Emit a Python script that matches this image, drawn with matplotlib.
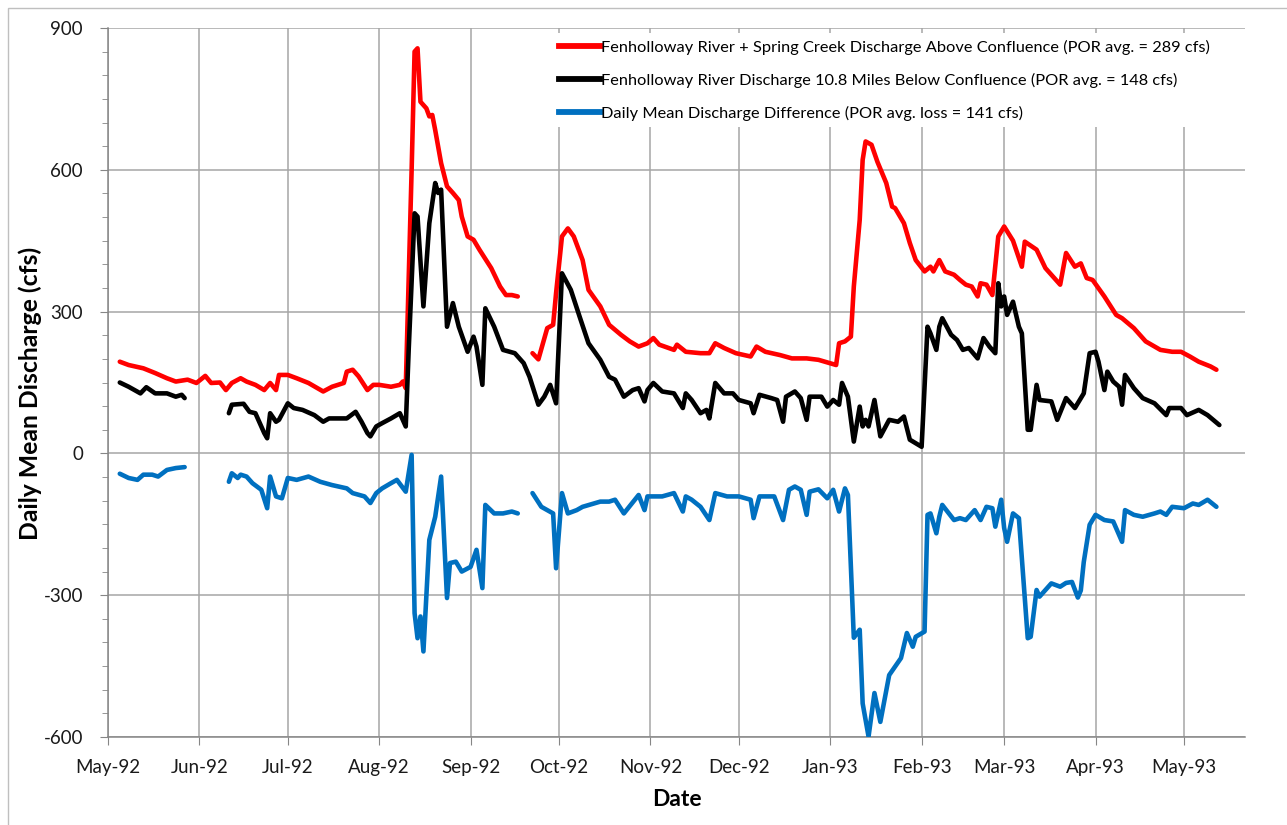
import numpy as np
import pandas as pd
import matplotlib
matplotlib.use("Agg")
import matplotlib.pyplot as plt
import matplotlib.dates as mdates
from matplotlib.ticker import MultipleLocator
from matplotlib.lines import Line2D

plt.rcParams['font.family'] = ['Lato', 'DejaVu Sans']
plt.rcParams['axes.unicode_minus'] = False

START = pd.Timestamp('1992-05-01')

# Fenholloway R. + Spring Creek above confluence (day of record, cfs); nan = missing record
above_day = [4, 7, 12, 16, 20, 23, 27, 30, 33, 35, 38, 40, 42, 45, 47, 50, 53, 55, 57, 58,
             61, 64, 68, 73, 76, 80, 81, 83, 85, 88, 90, 92, 96, 99, 100, 101, 103, 104, 105, 106,
             108, 109, 110, 111, 113, 115, 117, 119, 120, 122, 124, 126, 130, 133, 135, 137, 139, 141,
             144, 146, 149, 151, 152, 154, 156, 158, 161, 163, 167, 170, 174, 177, 180, 183, 185, 187,
             192, 193, 196, 201, 204, 206, 209, 213, 218, 220, 223, 228, 232, 237, 241, 247, 248, 250,
             252, 253, 255, 256, 257, 259, 261, 264, 266, 267, 270, 272, 274, 277, 279, 280, 282, 284,
             287, 289, 291, 293, 295, 296, 298, 300, 302, 304, 307, 310, 311, 315, 318, 323, 325, 328,
             330, 332, 334, 338, 342, 344, 348, 352, 357, 361, 364, 367, 370, 374, 376]
above_cfs = [194, 187, 180, 170, 159, 152, 156, 149, 164, 149, 150, 134, 149, 159, 152, 145, 134, 149, 134, 166,
             166, 159, 149, 131, 141, 149, 173, 177, 163, 134, 145, 145, 141, 145, 152, 138, 600, 850, 857, 744,
             730, 713, 716, 684, 614, 565, 551, 536, 501, 459, 452, 431, 392, 353, 335, 335, 332, np.nan,
             212, 199, 265, 272, 339, 459, 476, 459, 409, 346, 311, 272, 251, 237, 226, 233, 244, 230,
             219, 230, 215, 212, 212, 233, 223, 212, 205, 226, 215, 208, 201, 201, 198, 187, 233, 237,
             247, 353, 494, 621, 660, 653, 617, 572, 522, 519, 487, 445, 409, 385, 395, 385, 409, 385,
             378, 367, 357, 353, 332, 360, 357, 335, 459, 480, 450, 395, 448, 431, 392, 357, 424, 395,
             402, 371, 367, 332, 293, 286, 265, 237, 219, 215, 215, 205, 194, 184, 177]

# Fenholloway R. 10.8 miles below confluence
below_day = [4, 7, 11, 13, 16, 20, 23, 25, 26, 33,
             41, 42, 46, 48, 50, 53, 54, 55, 57, 58, 61, 63, 66, 70, 73, 75, 79, 81, 84, 86,
             88, 89, 91, 93, 96, 99, 101, 102, 104, 105, 107, 109, 111, 112, 113, 115, 117, 119, 122, 124,
             125, 127, 128, 131, 134, 138, 141, 143, 146, 148, 150, 152, 154, 157, 160, 163, 167, 170, 172, 175,
             178, 180, 182, 183, 185, 188, 192, 195, 196, 198, 201, 203, 204, 206, 209, 212, 214, 218, 219, 221,
             225, 227, 229, 230, 233, 235, 237, 238, 242, 244, 246, 248, 249, 251, 253, 255, 256, 257, 258, 260,
             262, 265, 268, 270, 272, 276, 278, 279, 281, 282, 283, 286, 288, 290, 292, 295, 297, 299, 301, 302,
             303, 304, 305, 307, 309, 310, 312, 313, 315, 316, 320, 322, 325, 328, 331, 333, 335, 336, 338, 339,
             341, 343, 344, 345, 348, 351, 355, 359, 360, 364, 366, 370, 373, 377]
below_cfs = [150, 141, 127, 140, 127, 127, 120, 124, 117, np.nan,
             85, 103, 105, 88, 85, 43, 32, 85, 67, 71, 106, 96, 92, 81, 67, 74, 74, 74, 88, 67,
             43, 36, 57, 64, 74, 85, 57, 219, 508, 501, 311, 487, 572, 551, 558, 268, 318, 268, 215, 247,
             226, 145, 307, 268, 219, 212, 191, 162, 103, 120, 145, 106, 381, 346, 289, 233, 198, 162, 156, 120,
             134, 138, 110, 134, 149, 131, 127, 96, 127, 113, 85, 92, 74, 149, 127, 127, 113, 106, 85, 124,
             117, 113, 67, 120, 131, 117, 71, 120, 120, 99, 113, 103, 149, 120, 25, 99, 57, 71, 57, 113,
             36, 71, 67, 78, 29, 14, 268, 254, 219, 268, 286, 251, 240, 219, 223, 201, 244, 226, 212, 360,
             311, 332, 293, 321, 268, 254, 50, 50, 145, 113, 110, 71, 117, 96, 127, 212, 215, 194, 134, 173,
             152, 141, 103, 166, 138, 117, 106, 81, 96, 96, 81, 92, 81, 60]

# daily mean difference (below minus above)
diff_day = [4, 7, 10, 12, 15, 17, 20, 23, 26, 33,
            41, 42, 44, 45, 47, 49, 52, 54, 55, 57, 59, 61, 64, 68, 72, 76, 81, 83, 87, 89,
            91, 93, 96, 98, 101, 103, 104, 105, 106, 107, 109, 111, 113, 115, 116, 118, 120, 123, 125, 127,
            128, 131, 134, 137, 139, 141,
            144, 147, 149, 151, 152, 154, 156, 159, 161, 167, 170, 172, 175, 180, 182, 183, 188, 192, 195, 196,
            198, 201, 204, 206, 210, 214, 218, 219, 221, 226, 229, 231, 233, 235, 237, 238, 241, 244, 246, 248,
            250, 251, 253, 255, 256, 258, 260, 262, 265, 267, 269, 271, 273, 274, 277, 278, 279, 281, 282, 283,
            287, 289, 291, 294, 296, 298, 300, 301, 303, 304, 305, 307, 309, 312, 313, 315, 316, 320, 323, 325,
            327, 329, 330, 331, 333, 335, 338, 341, 344, 345, 348, 351, 355, 357, 359, 361, 365, 368, 370, 373,
            376]
diff_cfs = [-43, -52, -56, -45, -45, -49, -35, -31, -29, np.nan,
            -60, -42, -52, -45, -49, -63, -77, -116, -49, -91, -95, -52, -56, -49, -60, -67, -74, -84, -91, -105,
            -84, -74, -63, -56, -81, -3, -338, -391, -345, -419, -183, -134, -49, -306, -232, -229, -250, -240, -204, -285,
            -109, -127, -127, -123, -127, np.nan,
            -84, -113, -120, -127, -243, -84, -127, -120, -113, -102, -102, -98, -127, -88, -120, -91, -91, -84, -123, -91,
            -98, -113, -141, -84, -91, -91, -98, -137, -91, -91, -141, -77, -70, -77, -130, -81, -76, -95, -77, -123,
            -74, -88, -390, -373, -529, -599, -507, -568, -469, -451, -433, -380, -409, -388, -377, -130, -127, -169, -134, -109,
            -141, -137, -141, -120, -141, -113, -116, -155, -98, -158, -187, -127, -137, -391, -388, -289, -303, -275, -282, -274,
            -272, -305, -290, -230, -151, -130, -141, -144, -187, -120, -130, -134, -127, -123, -130, -113, -116, -106, -109, -98,
            -113]

labels = ['Fenholloway River + Spring Creek Discharge Above Confluence (POR avg. = 289 cfs)',
          'Fenholloway River Discharge 10.8 Miles Below Confluence (POR avg. = 148 cfs)',
          'Daily Mean Discharge Difference (POR avg. loss = 141 cfs)']
colors = ['#FF0000', '#000000', '#0070C0']


def to_dates(days):
    return START + pd.to_timedelta(days, unit='D')


fig = plt.figure(figsize=(12.87, 8.25), dpi=100)
ax = fig.add_axes([108 / 1287, 88 / 825, 1137 / 1287, 709 / 825])

series = [(above_day, above_cfs), (below_day, below_cfs), (diff_day, diff_cfs)]
for (d, v), c, lab in zip(series, colors, labels):
    ax.plot(to_dates(d), v, color=c, lw=3.3, label=lab,
            solid_joinstyle='round', solid_capstyle='round', zorder=3)

ax.set_ylim(-600, 900)
ax.set_xlim(START, START + pd.Timedelta(days=385.7))
ax.yaxis.set_major_locator(MultipleLocator(300))
ax.yaxis.set_minor_locator(MultipleLocator(50))
ax.xaxis.set_major_locator(mdates.MonthLocator())
ax.xaxis.set_major_formatter(mdates.DateFormatter('%b-%y'))

ax.grid(True, which='major', color='#A6A6A6', lw=1.1)
ax.set_axisbelow(True)
for s in ['top', 'right']:
    ax.spines[s].set_visible(False)
for s in ['left', 'bottom']:
    ax.spines[s].set_color('#868686')
    ax.spines[s].set_linewidth(1.1)
ax.tick_params(which='both', direction='out', color='#868686', labelsize=13.5,
               labelcolor='#1a1a1a')
ax.tick_params(which='major', length=6)
ax.tick_params(which='minor', length=4)
ax.tick_params(axis='y', pad=12)
ax.tick_params(axis='x', pad=10)

ax.set_xlabel('Date', fontsize=16.5, fontweight='bold', labelpad=9)
ax.set_ylabel('Daily Mean Discharge (cfs)', fontsize=17.8, fontweight='bold')
ax.yaxis.set_label_coords(-0.058, 0.484)

handles = [Line2D([], [], color=c, lw=4.2) for c in colors]
leg = ax.legend(handles, labels, loc='upper right', bbox_to_anchor=(0.975, 0.993),
                fontsize=11.8, handlelength=2.5, handletextpad=0.1, labelspacing=1.1,
                frameon=True, fancybox=False, borderpad=0.4, borderaxespad=0)
leg.get_frame().set_facecolor('white')
leg.get_frame().set_edgecolor('none')
leg.get_frame().set_alpha(1)

# outer chart border
fig.patches.append(plt.Rectangle((8 / 1287, -0.05), 1.2, 1.05 - 8 / 825,
                                 transform=fig.transFigure, fill=False,
                                 edgecolor='#BFBFBF', lw=1))

fig.savefig('out.png', dpi=100)
